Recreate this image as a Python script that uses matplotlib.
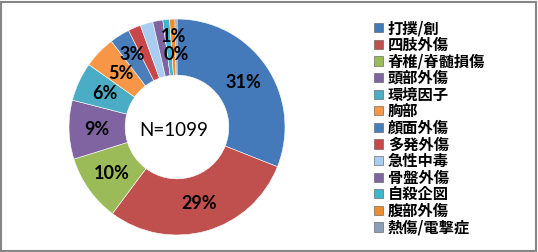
import matplotlib
matplotlib.use('Agg')
import matplotlib.pyplot as plt
from matplotlib.patches import Patch, Rectangle
import numpy as np

plt.rcParams['font.family'] = ['Noto Sans CJK JP', 'DejaVu Sans']

# Injury categories (N=1099), shares in percent.
categories = ['打撲/創', '四肢外傷', '脊椎/脊髄損傷', '頭部外傷', '環境因子', '胸部',
              '顔面外傷', '多発外傷', '急性中毒', '骨盤外傷', '自殺企図', '腹部外傷',
              '熱傷/電撃症']
shares = [31.0, 29.2, 10.0, 8.8, 5.8, 4.8, 3.0, 1.9, 1.9, 1.5, 1.0, 0.8, 0.3]
# Percentage labels that are visible on the chart (others are hidden).
pct_labels = ['31%', '29%', '10%', '9%', '6%', '5%', '3%', '', '', '', '', '1%', '0%']
colors = ['#4479BA', '#C0504D', '#9BBB59', '#8064A2', '#4BACC6', '#F79646',
          '#4A7EBB', '#C9464A', '#A9CDF0', '#8064A2', '#3DB6D0', '#F08A2C',
          '#8B9DB8']
n_total = 1099

fig = plt.figure(figsize=(5.38, 2.52), dpi=100)
fig.patches.append(Rectangle((0.002, 0.004), 0.995, 0.99, transform=fig.transFigure,
                             fill=False, edgecolor='#868686', linewidth=1.5))

# donut axes: centre ~ (177, 127) px, outer radius ~108 px
cx, cy, r = 177, 127, 108
ax = fig.add_axes([(cx - r) / 538, (252 - cy - r) / 252, 2 * r / 538, 2 * r / 252])
ring = 0.52
wedges, _ = ax.pie(shares, colors=colors, startangle=90, counterclock=False,
                   radius=1.0, wedgeprops=dict(width=ring, edgecolor='#ffffff',
                                               linewidth=0.4))
ax.set_xlim(-1, 1)
ax.set_ylim(-1, 1)
ax.set_aspect('equal')

# labels at ring middle, a few small ones pushed out/in like the original
label_r = [0.74] * len(shares)
label_r[5] = 0.72
label_r[6] = 0.79
label_r[11] = 0.84
label_r[12] = 0.67
for w, lab, lr in zip(wedges, pct_labels, label_r):
    if not lab:
        continue
    ang = np.deg2rad((w.theta1 + w.theta2) / 2)
    ax.text(lr * np.cos(ang), lr * np.sin(ang), lab, ha='center', va='center',
            fontsize=13, fontweight='bold', family=['Lato', 'DejaVu Sans'])

ax.text(-0.03, -0.03, f'N={n_total}', ha='center', va='center', fontsize=13.5,
        family=['Lato', 'DejaVu Sans'])

handles = [Patch(facecolor=c, edgecolor='#555555', linewidth=0.4) for c in colors]
fig.legend(handles, categories, loc='upper left', bbox_to_anchor=(368 / 538, 1 - 14 / 252),
           frameon=False, handlelength=0.55, handleheight=0.55,
           handletextpad=0.35, labelspacing=0.04, borderaxespad=0,
           prop=dict(weight='bold', size=11))

fig.savefig('out.png', dpi=100)
